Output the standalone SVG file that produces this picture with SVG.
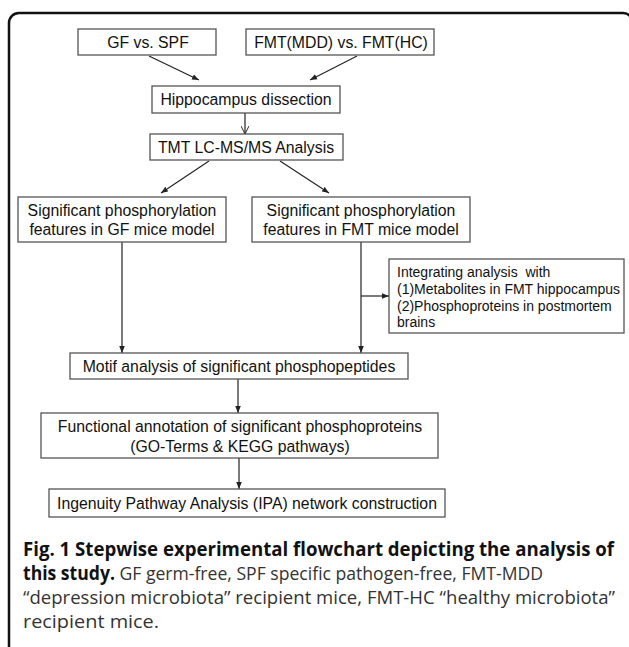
<svg xmlns="http://www.w3.org/2000/svg" width="629" height="647" viewBox="0 0 629 647">
<defs>
<marker id="tri" viewBox="0 0 10 10" refX="10" refY="5" markerWidth="7" markerHeight="7" markerUnits="userSpaceOnUse" orient="auto">
<path d="M0,1 L10,5 L0,9 z" fill="#222"/>
</marker>
<marker id="vee" viewBox="0 0 10 10" refX="10" refY="5" markerWidth="8" markerHeight="8" markerUnits="userSpaceOnUse" orient="auto">
<path d="M0,0 L10,5 L0,10" fill="none" stroke="#222" stroke-width="1.2"/>
</marker>
</defs>
<style>
.box{fill:#fff;stroke:#555;stroke-width:1.3}
.t{font-family:"Liberation Sans",Arial,sans-serif;font-size:15.8px;fill:#111;text-anchor:middle}
.tl{font-family:"Liberation Sans",Arial,sans-serif;font-size:14px;fill:#111}
.c{stroke:#222;stroke-width:1.2;fill:none}
.cap{font-family:"Open Sans","Noto Sans",sans-serif;font-size:19px;fill:#333}
.capb{font-weight:bold;fill:#111}
</style>
<rect width="629" height="647" fill="#fff"/>
<path d="M9,647 V23 A10,10 0 0 1 19,13 H623 A10,10 0 0 1 633,23 V660" fill="none" stroke="#111" stroke-width="2.5"/>

<g id="connectors">
<line class="c" x1="149" y1="56" x2="199" y2="80" marker-end="url(#tri)"/>
<line class="c" x1="357" y1="56" x2="310" y2="80" marker-end="url(#tri)"/>
<line class="c" x1="245" y1="113" x2="245" y2="134" marker-end="url(#vee)"/>
<line class="c" x1="209" y1="161" x2="161" y2="193" marker-end="url(#tri)"/>
<line class="c" x1="280" y1="161" x2="329" y2="193" marker-end="url(#tri)"/>
<line class="c" x1="122" y1="242" x2="122" y2="353" marker-end="url(#tri)"/>
<line class="c" x1="361" y1="242" x2="361" y2="353" marker-end="url(#tri)"/>
<line class="c" x1="361" y1="296" x2="389" y2="296" marker-end="url(#tri)"/>
<line class="c" x1="238" y1="379" x2="238" y2="413" marker-end="url(#tri)"/>
<line class="c" x1="239" y1="458" x2="239" y2="489" marker-end="url(#tri)"/>
</g>

<g id="gf-spf"><rect class="box" x="78" y="29" width="138" height="26"/><text class="t" x="148" y="47.5">GF vs. SPF</text></g>
<g id="fmt"><rect class="box" x="246" y="29" width="188" height="26"/><text class="t" x="341" y="47.5">FMT(MDD) vs. FMT(HC)</text></g>
<g id="hippo"><rect class="box" x="152" y="86" width="188" height="27"/><text class="t" x="246" y="105">Hippocampus dissection</text></g>
<g id="tmt"><rect class="box" x="150" y="134" width="193" height="26"/><text class="t" x="246" y="152.5">TMT LC-MS/MS Analysis</text></g>
<g id="sig-gf"><rect class="box" x="18" y="197" width="208" height="45"/><text class="t" x="122" y="216">Significant phosphorylation</text><text class="t" x="122" y="235">features in GF mice model</text></g>
<g id="sig-fmt"><rect class="box" x="252" y="197" width="218" height="45"/><text class="t" x="361" y="216">Significant phosphorylation</text><text class="t" x="361" y="235">features in FMT mice model</text></g>
<g id="integ"><rect class="box" x="389" y="259" width="235" height="74"/>
<text class="tl" x="397" y="277" xml:space="preserve">Integrating analysis  with</text>
<text class="tl" x="397" y="294">(1)Metabolites in FMT hippocampus</text>
<text class="tl" x="397" y="311">(2)Phosphoproteins in postmortem</text>
<text class="tl" x="397" y="327">brains</text></g>
<g id="motif"><rect class="box" x="70" y="353" width="338" height="26"/><text class="t" x="239" y="371.5">Motif analysis of significant phosphopeptides</text></g>
<g id="func"><rect class="box" x="41" y="413" width="397" height="45"/><text class="t" x="240" y="432">Functional annotation of significant phosphoproteins</text><text class="t" x="240" y="452">(GO-Terms &amp; KEGG pathways)</text></g>
<g id="ipa"><rect class="box" x="49" y="489" width="396" height="28"/><text class="t" x="247" y="508.5">Ingenuity Pathway Analysis (IPA) network construction</text></g>

<g id="caption">
<text class="cap capb" x="23" y="556" textLength="591" lengthAdjust="spacingAndGlyphs">Fig. 1 Stepwise experimental flowchart depicting the analysis of</text>
<text class="cap" x="23" y="580" textLength="520" lengthAdjust="spacingAndGlyphs"><tspan class="capb">this study.</tspan> GF germ-free, SPF specific pathogen-free, FMT-MDD</text>
<text class="cap" x="23" y="604" textLength="592" lengthAdjust="spacingAndGlyphs">“depression microbiota” recipient mice, FMT-HC “healthy microbiota”</text>
<text class="cap" x="23" y="628" textLength="136" lengthAdjust="spacingAndGlyphs">recipient mice.</text>
</g>
</svg>
